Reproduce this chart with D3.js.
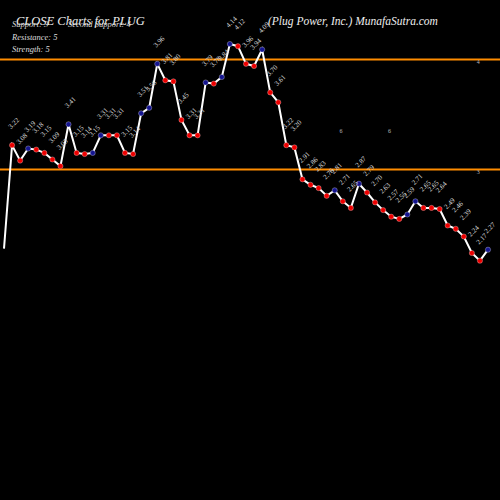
<!DOCTYPE html>
<html><head><meta charset="utf-8">
<script src="https://cdn.jsdelivr.net/npm/d3@7"></script>
<style>html,body{margin:0;padding:0;background:#000;}svg{display:block;}</style>
</head><body>
<script>
const closes = [2.28,3.22,3.08,3.19,3.18,3.15,3.09,3.03,3.41,3.15,3.14,3.15,3.31,3.31,3.31,3.15,3.14,3.51,3.56,3.96,3.81,3.80,3.45,3.31,3.31,3.79,3.78,3.84,4.14,4.12,3.96,3.94,4.09,3.70,3.61,3.22,3.20,2.91,2.86,2.83,2.76,2.81,2.71,2.65,2.87,2.79,2.70,2.63,2.57,2.55,2.59,2.71,2.65,2.65,2.64,2.49,2.46,2.39,2.24,2.17,2.27];
const levels = [4.00, 3.00];
const notes = [{i:58.6, v:3.96, t:"4"},{i:41.6, v:3.33, t:"6"},{i:47.6, v:3.33, t:"6"},{i:58.6, v:2.96, t:"3"}];
const infoLines = ["Resistance: 5","Strength: 5"];

const W=500,H=500;
const svg=d3.select("body").append("svg").attr("width",W).attr("height",H).style("background","#000");
svg.append("rect").attr("width",W).attr("height",H).attr("fill","#000");
const x=d3.scaleLinear().domain([0,closes.length-1]).range([4,488]);
const y=d3.scaleLinear().domain([2.24,4.14]).range([253,44]);
const font="'Liberation Serif', 'DejaVu Serif', serif";

svg.selectAll("line.lvl").data(levels).join("line").attr("class","lvl")
  .attr("x1",0).attr("x2",W).attr("y1",d=>y(d)).attr("y2",d=>y(d))
  .attr("stroke","#ff8c00").attr("stroke-width",2);

svg.append("path").datum(closes)
  .attr("d",d3.line().x((d,i)=>x(i)).y(d=>y(d)))
  .attr("fill","none").attr("stroke","#fff").attr("stroke-width",2);

const pts=closes.map((v,i)=>({v,i})).filter(d=>d.i>0);
svg.selectAll("circle.pt").data(pts).join("circle").attr("class","pt")
  .attr("cx",d=>x(d.i)).attr("cy",d=>y(d.v)).attr("r",2.6)
  .attr("fill",d=>(d.i>1 && d.v>closes[d.i-1])?"#151590":"#ee0000")
  .attr("stroke","#fff").attr("stroke-width",0.3);

svg.selectAll("text.lbl").data(pts).join("text").attr("class","lbl")
  .attr("transform",d=>`translate(${x(d.i)-1},${y(d.v)-16}) rotate(-45)`)
  .attr("fill","#d8d8d8").attr("font-family",font).attr("font-size",7)
  .text(d=>d.v.toFixed(2));

svg.selectAll("text.note").data(notes).join("text").attr("class","note")
  .attr("x",d=>x(d.i)).attr("y",d=>y(d.v)).attr("fill","#bbb")
  .attr("font-family",font).attr("font-size",6).text(d=>d.t);

svg.append("text").attr("x",16).attr("y",25).attr("fill","#eee").attr("font-family",font)
  .attr("font-style","italic").attr("font-size",12.5).text("CLOSE Charts for PLUG");
svg.append("text").attr("x",12).attr("y",27).attr("fill","#ddd").attr("font-family",font)
  .attr("font-style","italic").attr("font-size",8.5).text("Support: 3");
svg.append("text").attr("x",68).attr("y",27).attr("fill","#ddd").attr("font-family",font)
  .attr("font-style","italic").attr("font-size",8.5).text("Second Support: 4");
svg.selectAll("text.info").data(infoLines).join("text").attr("class","info")
  .attr("x",12).attr("y",(d,i)=>40+i*12).attr("fill","#ddd").attr("font-family",font)
  .attr("font-style","italic").attr("font-size",8.5).text(d=>d);
svg.append("text").attr("x",268).attr("y",25).attr("fill","#eee").attr("font-family",font)
  .attr("font-style","italic").attr("font-size",11.5).text("(Plug Power,  Inc.) MunafaSutra.com");
</script>
</body></html>
